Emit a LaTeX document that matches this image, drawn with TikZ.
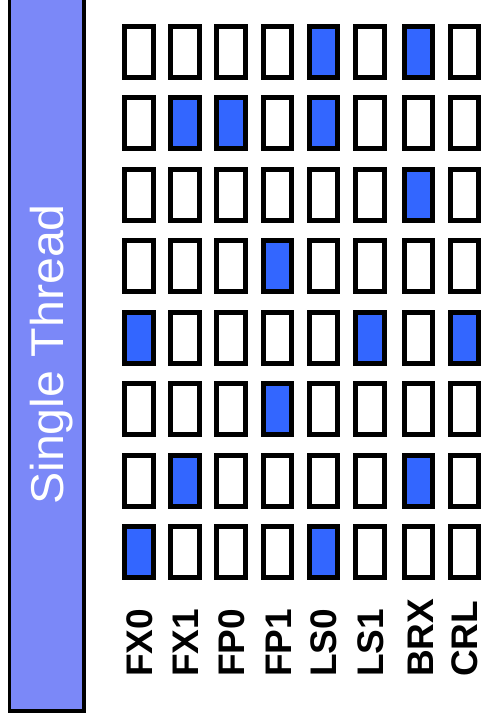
\documentclass[tikz,border=0pt]{standalone}
\usepackage{fontspec}
\setmainfont{Liberation Sans}
\definecolor{barfill}{RGB}{123,136,248}
\definecolor{cellblue}{RGB}{51,102,255}
\begin{document}
\begin{tikzpicture}[x=1pt,y=-1pt,
  cell/.style={draw=black,line width=5pt,minimum width=28.5pt,minimum height=51pt,inner sep=0pt,fill=white},
  on/.style={fill=cellblue},
  unitlabel/.style={rotate=90,anchor=base west,inner sep=0pt,font=\fontsize{37}{37}\selectfont\bfseries},
  bar/.style={draw=black,line width=3.5pt,fill=barfill}]
\useasboundingbox (0,0) rectangle (489,722);
\draw[bar] (9.25,-5) rectangle (83.75,711);
\node[rotate=90,anchor=base west,inner sep=0pt,text=white,font=\fontsize{46}{46}\selectfont] (title) at (63,505) {\scalebox{1.05}[1]{Single Thread}};
\def\pattern{{0,0,0,0,1,0,1,0},{0,1,1,0,1,0,0,0},{0,0,0,0,0,0,1,0},{0,0,0,1,0,0,0,0},{1,0,0,0,0,1,0,1},{0,0,0,1,0,0,0,0},{0,1,0,0,0,0,1,0},{1,0,0,0,1,0,0,0}}
\foreach \cx [count=\c from 0] in {139.2,185,231,277.5,323.4,370,418.4,464.4}{
  \foreach \r in {0,...,7}{
    \pgfmathtruncatemacro{\v}{{\pattern}[\r][\c]}
    \pgfmathsetmacro{\cy}{24+\r*71.43+28}
    \ifnum\v=1
      \node[cell,on] (c-\r-\c) at (\cx,\cy) {};
    \else
      \node[cell] (c-\r-\c) at (\cx,\cy) {};
    \fi
  }
}
\foreach \cx/\t [count=\c from 0] in {139.2/FX0,185/FX1,231/FP0,277.5/FP1,323.4/LS0,370/LS1,420/BRX,464.4/CRL}{
  \node[unitlabel] (l-\c) at (\cx+13.5,677) {\t};
}
\end{tikzpicture}
\end{document}
